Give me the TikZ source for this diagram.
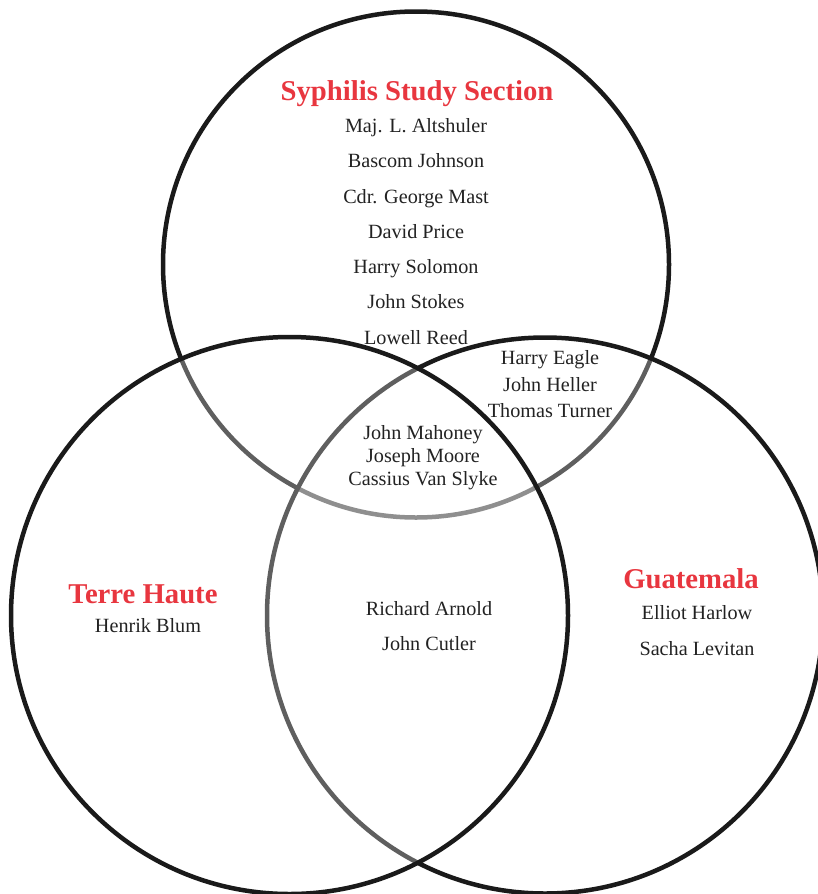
\documentclass[tikz,border=0pt]{standalone}
\usepackage{fontspec}
\setmainfont{Liberation Serif}
\definecolor{ttl}{HTML}{E8363F}
\definecolor{ink}{HTML}{222222}
\definecolor{ring}{HTML}{1A1A1A}
\begin{document}
\begin{tikzpicture}[x=1pt,y=-1pt,
  ringline/.style={draw=ring,line width=4.5pt},
  veil/.style={fill=white,fill opacity=0.3},
  title/.style={text=ttl,font=\fontsize{28.7}{30}\selectfont\bfseries,inner sep=0pt},
  who/.style={text=ink,font=\fontsize{20.2}{22}\selectfont,inner sep=0pt,anchor=base}]
\useasboundingbox (0,0) rectangle (817,894);
% circles
\draw[ringline] (416,264.5) circle (253);
\path[veil] (545,615.5) circle (278);
\draw[ringline] (545,615.5) circle (278);
\path[veil] (289.5,615.5) circle (278.5);
\draw[ringline] (289.5,615.5) circle (278.5);
% titles
\node[title,anchor=base] (sss) at (417,100) {Syphilis Study Section};
\node[title,anchor=base] (th) at (143,603) {Terre Haute};
\node[title,anchor=base] (gu) at (691,588) {Guatemala};
% syphilis study section
\node[who] (n1) at (416,132) {Maj. L. Altshuler};
\node[who] (n2) at (416,167) {Bascom Johnson};
\node[who] (n3) at (416,203) {Cdr. George Mast};
\node[who] (n4) at (416,238) {David Price};
\node[who] (n5) at (416,273) {Harry Solomon};
\node[who] (n6) at (416,308) {John Stokes};
\node[who] (n7) at (416,344) {Lowell Reed};
% SSS & Guatemala
\node[who] (n8) at (550,364) {Harry Eagle};
\node[who] (n9) at (550,391) {John Heller};
\node[who] (n10) at (550,417) {Thomas Turner};
% all three
\node[who] (n11) at (423,439) {John Mahoney};
\node[who] (n12) at (423,462) {Joseph Moore};
\node[who] (n13) at (423,485) {Cassius Van Slyke};
% Terre Haute
\node[who] (n14) at (148,632) {Henrik Blum};
% TH & Guatemala
\node[who] (n15) at (429,615) {Richard Arnold};
\node[who] (n16) at (429,650) {John Cutler};
% Guatemala
\node[who] (n17) at (697,619) {Elliot Harlow};
\node[who] (n18) at (697,655) {Sacha Levitan};
\end{tikzpicture}
\end{document}
